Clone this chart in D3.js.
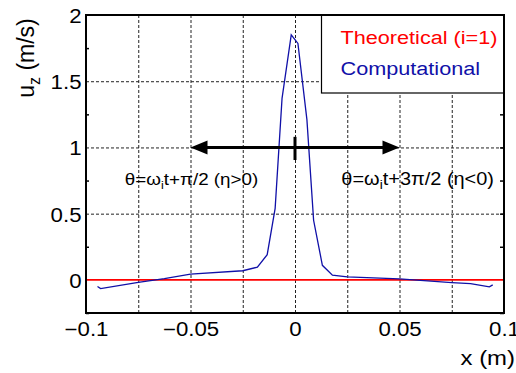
<!DOCTYPE html>
<html>
<head>
<meta charset="utf-8">
<script src="https://cdn.jsdelivr.net/npm/d3@7"></script>
<style>
  body { margin: 0; background: #fff; }
  text { font-family: "Liberation Sans", Arial, sans-serif; fill: #000; }
</style>
</head>
<body>
<div id="chart"></div>
<script>
// --- data ---
const compX = [-0.0945, -0.093, -0.075, -0.0625, -0.05, -0.025, -0.018, -0.0133, -0.0095, -0.0062,
  -0.0018, 0.0014, 0.0057, 0.0089, 0.0131, 0.0179, 0.025, 0.05, 0.075, 0.084, 0.093, 0.0946];
const compY = [-0.05, -0.066, -0.018, 0.01, 0.043, 0.069, 0.096, 0.19, 0.54, 1.37,
  1.85, 1.785, 1.21, 0.45, 0.11, 0.035, 0.022, 0.008, -0.02, -0.028, -0.053, -0.038];
const theoX = [-0.1, 0.1];
const theoY = [0, 0];

const xTicks = [-0.1, -0.05, 0, 0.05, 0.1];
const xTickLabels = ["\u22120.1", "\u22120.05", "0", "0.05", "0.1"];
const xGrid = [-0.075, -0.05, -0.025, 0, 0.025, 0.05, 0.075];
const yTicks = [0, 0.5, 1, 1.5, 2];
const yTickLabels = ["0", "0.5", "1", "1.5", "2"];
const yGrid = [0.5, 1, 1.5];
const yMinor = [-0.25, 0.25, 0.75, 1.25, 1.75];
const legendNames = ["Theoretical (i=1)", "Computational"];

const width = 516, height = 373;
const margin = { left: 86, top: 15, right: 12, bottom: 60 };
const stretch = 1.14; // text in the picture is a bit wider than tall

const svg = d3.select("#chart").append("svg")
  .attr("width", width)
  .attr("height", height);

const x = d3.scaleLinear().domain([-0.1, 0.1]).range([margin.left, width - margin.right]);
const y = d3.scaleLinear().domain([-0.25, 2]).range([height - margin.bottom, margin.top]);

// --- grid ---
svg.append("g")
  .attr("transform", `translate(0, ${y(-0.25)})`)
  .call(d3.axisBottom(x).tickValues(xGrid).tickSize(-(y(-0.25) - y(2))).tickFormat(""))
  .call(g => g.select(".domain").remove())
  .selectAll("line")
  .attr("stroke", "#222")
  .attr("stroke-dasharray", "3,2");

svg.append("g")
  .attr("transform", `translate(${x(-0.1)}, 0)`)
  .call(d3.axisLeft(y).tickValues(yGrid).tickSize(-(x(0.1) - x(-0.1))).tickFormat(""))
  .call(g => g.select(".domain").remove())
  .selectAll("line")
  .attr("stroke", "#222")
  .attr("stroke-dasharray", "3,2");

// --- lines ---
const line = d3.line().x(d => x(d[0])).y(d => y(d[1]));

svg.append("path")
  .datum(theoX.map((d, i) => [d, theoY[i]]))
  .attr("d", line)
  .attr("fill", "none")
  .attr("stroke", "#ff0000")
  .attr("stroke-width", 1.6);

svg.append("path")
  .datum(compX.map((d, i) => [d, compY[i]]))
  .attr("d", line)
  .attr("fill", "none")
  .attr("stroke", "#1010a8")
  .attr("stroke-width", 1.3);

// --- arrows ---
const arrowY = 1;
svg.append("line")
  .attr("x1", x(-0.05) + 10).attr("x2", x(0.05) - 10)
  .attr("y1", y(arrowY)).attr("y2", y(arrowY))
  .attr("stroke", "#000")
  .attr("stroke-width", 3);

[[-0.05, 1], [0.05, -1]].forEach(([xv, dir]) => {
  const tx = x(xv), ty = y(arrowY);
  svg.append("path")
    .attr("d", `M${tx},${ty} L${tx + dir * 17},${ty - 7} L${tx + dir * 17},${ty + 7} Z`)
    .attr("fill", "#000");
});

svg.append("line")
  .attr("x1", x(0)).attr("x2", x(0))
  .attr("y1", y(1.08)).attr("y2", y(0.905))
  .attr("stroke", "#000")
  .attr("stroke-width", 3);

// --- frame + ticks ---
svg.append("rect")
  .attr("x", x(-0.1)).attr("y", y(2))
  .attr("width", x(0.1) - x(-0.1)).attr("height", y(-0.25) - y(2))
  .attr("fill", "none")
  .attr("stroke", "#000")
  .attr("stroke-width", 2);

svg.append("g")
  .attr("transform", `translate(${x(-0.1)}, 0)`)
  .call(d3.axisLeft(y).tickValues(yMinor).tickSize(-3).tickFormat(""))
  .call(g => g.select(".domain").remove())
  .selectAll("line").attr("stroke-width", 1.5);

svg.append("g")
  .attr("transform", `translate(${x(0.1)}, 0)`)
  .call(d3.axisRight(y).tickValues(yMinor.concat(yGrid)).tickSize(-4).tickFormat(""))
  .call(g => g.select(".domain").remove())
  .selectAll("line").attr("stroke-width", 1.5);

// tick labels
const yAxis = svg.append("g")
  .attr("transform", `translate(${x(-0.1)}, 0)`)
  .call(d3.axisLeft(y).tickValues(yTicks).tickSize(0).tickFormat((d, i) => yTickLabels[i]));
yAxis.select(".domain").remove();
yAxis.selectAll("text")
  .attr("x", 0).attr("dy", null)
  .attr("transform", `translate(-4.5, 7.5) scale(${stretch}, 1)`)
  .style("font-size", "19.5px");

const xAxis = svg.append("g")
  .attr("transform", `translate(0, ${y(-0.25)})`)
  .call(d3.axisBottom(x).tickValues(xTicks).tickSize(0).tickFormat((d, i) => xTickLabels[i]));
xAxis.select(".domain").remove();
xAxis.selectAll("text")
  .attr("y", 0).attr("dy", null)
  .attr("transform", `translate(0, 23) scale(${stretch}, 1)`)
  .style("font-size", "19.5px");

// helper for stretched free text
function stext(px, py, anchor, size) {
  return svg.append("g")
    .attr("transform", `translate(${px}, ${py}) scale(${stretch}, 1)`)
    .append("text")
    .attr("text-anchor", anchor)
    .style("font-size", size + "px");
}

// axis titles
stext(515, 365, "end", 21).text("x (m)");

const yl = svg.append("text")
  .attr("transform", `translate(34, 58) rotate(-90)`)
  .attr("text-anchor", "middle")
  .style("font-size", "23px");
yl.append("tspan").text("u");
yl.append("tspan").attr("dy", 6).style("font-size", "16px").text("z");
yl.append("tspan").attr("dy", -6).text(" (m/s)");

// annotations
const a1 = stext(x(-0.0495), y(0.716), "middle", 16.5);
a1.append("tspan").text("\u03b8=\u03c9");
a1.append("tspan").attr("dy", 4).style("font-size", "11px").text("i");
a1.append("tspan").attr("dy", -4).text("t+\u03c0/2 (\u03b7>0)");

const a2 = stext(x(0.0587), y(0.716), "middle", 17.5);
a2.append("tspan").text("\u03b8=\u03c9");
a2.append("tspan").attr("dy", 4).style("font-size", "12px").text("i");
a2.append("tspan").attr("dy", -4).text("t+3\u03c0/2 (\u03b7<0)");

// --- legend ---
svg.append("rect")
  .attr("x", 321.5).attr("y", y(2))
  .attr("width", x(0.1) - 321.5).attr("height", 78)
  .attr("fill", "#fff")
  .attr("stroke", "#000")
  .attr("stroke-width", 1.2);

stext(340.5, 43.5, "start", 19).style("fill", "#ff0000").text(legendNames[0]);
stext(340.5, 75, "start", 19).style("fill", "#1010a8").text(legendNames[1]);

// redraw top/right border over legend
svg.append("path")
  .attr("d", `M${x(-0.1)},${y(2)} H${x(0.1)} V${y(-0.25)}`)
  .attr("fill", "none")
  .attr("stroke", "#000")
  .attr("stroke-width", 2);
</script>
</body>
</html>
